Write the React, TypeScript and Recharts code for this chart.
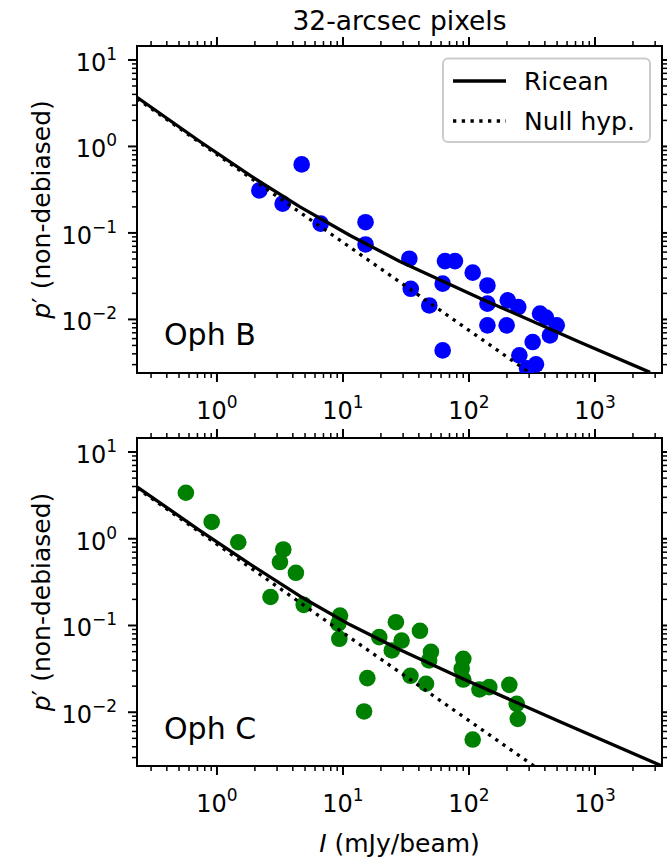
import React from 'react';
import { ScatterChart, Scatter, XAxis, YAxis } from 'recharts';

const FONT = '"DejaVu Sans", Verdana, sans-serif';

// ---- axes ----
const xMajorTicks = [1, 10, 100, 1000];
const yMajorTicks = [0.01, 0.1, 1, 10];
const minorSteps = [2, 3, 4, 5, 6, 7, 8, 9];
const X_DOMAIN: [number, number] = [0.232, 3400];
const Y_DOMAIN: [number, number] = [0.0024, 14.5];

// ---- Oph B (blue) ----
const ophB_I = [2.17, 3.32, 4.7, 6.65, 15.1, 15.1, 33.6, 34.5, 48.4, 61.8, 61.8, 64.5, 77.4, 107, 140, 140, 140, 203, 199, 246, 320, 251, 340, 289, 366, 408, 439, 497];
const ophB_p = [0.31, 0.218, 0.62, 0.128, 0.133, 0.0736, 0.0503, 0.0226, 0.0145, 0.0259, 0.00438, 0.0472, 0.0472, 0.0347, 0.0247, 0.0152, 0.00853, 0.0166, 0.00853, 0.0139, 0.00547, 0.00384, 0.00302, 0.00272, 0.0117, 0.0105, 0.00653, 0.00853];
const riceanB_I = [0.232, 0.733, 1.83, 4.56, 11.4, 28.3, 122, 760, 2733];
const riceanB_p = [3.7, 1.14, 0.462, 0.2, 0.0935, 0.0468, 0.0176, 0.00544, 0.00244];
const nullB_I = [0.232, 10, 305];
const nullB_p = [3.56, 0.0778, 0.0024];

// ---- Oph C (green) ----
const ophC_I = [0.567, 0.908, 1.476, 3.36, 3.16, 4.23, 2.66, 4.88, 9.47, 9.18, 9.35, 19.4, 26.3, 24.4, 29.2, 40.8, 49.9, 48.2, 34.3, 45.6, 15.6, 14.7, 90.1, 87.5, 90.1, 121, 145, 209, 239, 244, 107];
const ophC_p = [3.39, 1.56, 0.911, 0.753, 0.539, 0.405, 0.213, 0.173, 0.13, 0.105, 0.0703, 0.0735, 0.109, 0.0515, 0.0671, 0.0869, 0.0497, 0.0395, 0.0263, 0.0213, 0.0247, 0.0102, 0.0413, 0.0317, 0.0238, 0.0183, 0.0195, 0.0207, 0.0125, 0.00839, 0.00484];
const riceanC_I = [0.232, 0.733, 1.83, 4.56, 11.4, 28.3, 84.8, 528, 3400];
const riceanC_p = [3.96, 1.244, 0.51, 0.2175, 0.1018, 0.0524, 0.0251, 0.00778, 0.0024];
const nullC_I = [0.232, 9.47, 328];
const nullC_p = [3.83, 0.0873, 0.0024];

const zip = (xs: number[], ys: number[]) => xs.map((I, i) => ({ I, p: ys[i] }));

function buildTicks(majors: number[], domain: [number, number]) {
  const out: number[] = [];
  const decades = [majors[0] / 10, ...majors];
  decades.forEach((d) => {
    [1, ...minorSteps].forEach((m) => {
      const v = d * m;
      if (v >= domain[0] && v <= domain[1]) out.push(v);
    });
  });
  return out;
}
const xTicks = buildTicks(xMajorTicks, X_DOMAIN);
const yTicks = buildTicks(yMajorTicks, Y_DOMAIN);

const expOf = (v: number) => Math.round(Math.log10(v));
const isMajor = (v: number) => Math.abs(Math.log10(v) - expOf(v)) < 1e-6;
const expStr = (e: number) => (e < 0 ? '\u2212' + Math.abs(e) : String(e));

const MAJ = 9;
const MIN = 5;
const TICK_FS = 24;
const SUP_FS = 17;

const makeTick = (orient: 'bottom' | 'top' | 'left' | 'right', label: boolean) => (props: any) => {
  const { x, y, payload } = props;
  const v = payload.value;
  const major = isMajor(v);
  const len = major ? MAJ : MIN;
  const sw = major ? 2 : 1.5;
  let x2 = x;
  let y2 = y;
  if (orient === 'bottom') y2 = y + len;
  if (orient === 'top') y2 = y - len;
  if (orient === 'left') x2 = x - len;
  if (orient === 'right') x2 = x + len;
  let txt: any = null;
  if (label && major) {
    const e = expOf(v);
    if (orient === 'bottom') {
      txt = (
        <text x={x} y={y + 46} textAnchor="middle" fontSize={TICK_FS} fontFamily={FONT} fill="#000">
          10<tspan dy={-11} fontSize={SUP_FS}>{expStr(e)}</tspan>
        </text>
      );
    } else if (orient === 'left') {
      txt = (
        <text x={x - 20} y={y + 11} textAnchor="end" fontSize={TICK_FS} fontFamily={FONT} fill="#000">
          10<tspan dy={-11} fontSize={SUP_FS}>{expStr(e)}</tspan>
        </text>
      );
    }
  }
  return (
    <g>
      <line x1={x} y1={y} x2={x2} y2={y2} stroke="#000" strokeWidth={sw} />
      {txt}
    </g>
  );
};

const BottomTick = makeTick('bottom', true);
const TopTick = makeTick('top', false);
const LeftTick = makeTick('left', true);
const RightTick = makeTick('right', false);

const frameLine = { stroke: '#000', strokeWidth: 2, strokeLinecap: 'square' as const };

const dotShape = (color: string) => (props: any) => (
  <circle cx={props.cx} cy={props.cy} r={8.3} fill={color} stroke="none" />
);
const noShape = () => <g />;

type PanelProps = {
  top: number;
  height: number;
  marginTop: number;
  bottomAxisHeight: number;
  points: { I: number; p: number }[];
  color: string;
  ricean: { I: number; p: number }[];
  nul: { I: number; p: number }[];
};

function Panel({ top, height, marginTop, bottomAxisHeight, points, color, ricean, nul }: PanelProps) {
  const common = {
    type: 'number' as const,
    scale: 'log' as const,
    allowDataOverflow: true,
    interval: 0 as const,
    tickSize: 0,
    tickMargin: 0,
    tickLine: false,
    axisLine: frameLine,
  };
  return (
    <div style={{ position: 'absolute', left: 0, top }}>
      <ScatterChart width={667} height={height} margin={{ top: marginTop, right: 0, bottom: 0, left: 37 }}>
        <XAxis {...common} xAxisId={0} dataKey="I" domain={X_DOMAIN} ticks={xTicks} tick={BottomTick} height={bottomAxisHeight} />
        <XAxis {...common} xAxisId="t" orientation="top" dataKey="I" domain={X_DOMAIN} ticks={xTicks} tick={TopTick} height={10} />
        <YAxis {...common} yAxisId={0} dataKey="p" domain={Y_DOMAIN} ticks={yTicks} tick={LeftTick} width={100} />
        <YAxis {...common} yAxisId="r" orientation="right" dataKey="p" domain={Y_DOMAIN} ticks={yTicks} tick={RightTick} width={5} />
        <Scatter xAxisId={0} yAxisId={0} data={points} fill={color} shape={dotShape(color)} isAnimationActive={false} />
        <Scatter
          xAxisId={0}
          yAxisId={0}
          data={nul}
          line={{ stroke: '#000', strokeWidth: 3.3, strokeDasharray: '3.3 5.45', fill: 'none' }}
          shape={noShape}
          isAnimationActive={false}
        />
        <Scatter
          xAxisId={0}
          yAxisId={0}
          data={ricean}
          line={{ stroke: '#000', strokeWidth: 3.3, fill: 'none', strokeLinejoin: 'round' }}
          shape={noShape}
          isAnimationActive={false}
        />
      </ScatterChart>
    </div>
  );
}

const YLabel = ({ cy }: { cy: number }) => (
  <text transform={`translate(50,${cy}) rotate(-90)`} textAnchor="middle" fontSize={25} fontFamily={FONT} fill="#000">
    <tspan fontStyle="italic">p</tspan>
    {'\u2032 (non-debiased)'}
  </text>
);

export default function App() {
  return (
    <div style={{ position: 'absolute', left: 0, top: 0, width: 667, height: 860, background: '#fff', overflow: 'hidden' }}>
      <Panel
        top={0}
        height={426}
        marginTop={36}
        bottomAxisHeight={53}
        points={zip(ophB_I, ophB_p)}
        color="#0000ff"
        ricean={zip(riceanB_I, riceanB_p)}
        nul={zip(nullB_I, nullB_p)}
      />
      <Panel
        top={426}
        height={434}
        marginTop={2}
        bottomAxisHeight={94}
        points={zip(ophC_I, ophC_p)}
        color="#008000"
        ricean={zip(riceanC_I, riceanC_p)}
        nul={zip(nullC_I, nullC_p)}
      />
      <svg width={667} height={860} style={{ position: 'absolute', left: 0, top: 0, pointerEvents: 'none' }}>
        <text x={399.5} y={30} textAnchor="middle" fontSize={26.5} fontFamily={FONT} fill="#000">
          32-arcsec pixels
        </text>
        <YLabel cy={209.5} />
        <YLabel cy={602} />
        <text x={399.5} y={852} textAnchor="middle" fontSize={25} fontFamily={FONT} fill="#000">
          <tspan fontStyle="italic">I</tspan>
          {' (mJy/beam)'}
        </text>
        <text x={164} y={345} fontSize={30} fontFamily={FONT} fill="#000">Oph B</text>
        <text x={164} y={739} fontSize={30} fontFamily={FONT} fill="#000">Oph C</text>
        <g>
          <rect x={443} y={58.5} width={207} height={83.5} rx={5} ry={5} fill="#fff" fillOpacity={0.8} stroke="#cccccc" strokeWidth={2} />
          <line x1={453} y1={81} x2={506} y2={81} stroke="#000" strokeWidth={3.3} />
          <text x={524} y={89.5} fontSize={25} fontFamily={FONT} fill="#000">Ricean</text>
          <line x1={453} y1={121} x2={506} y2={121} stroke="#000" strokeWidth={3.3} strokeDasharray="3.3 5.45" />
          <text x={524} y={129.5} fontSize={25} fontFamily={FONT} fill="#000">Null hyp.</text>
        </g>
      </svg>
    </div>
  );
}
